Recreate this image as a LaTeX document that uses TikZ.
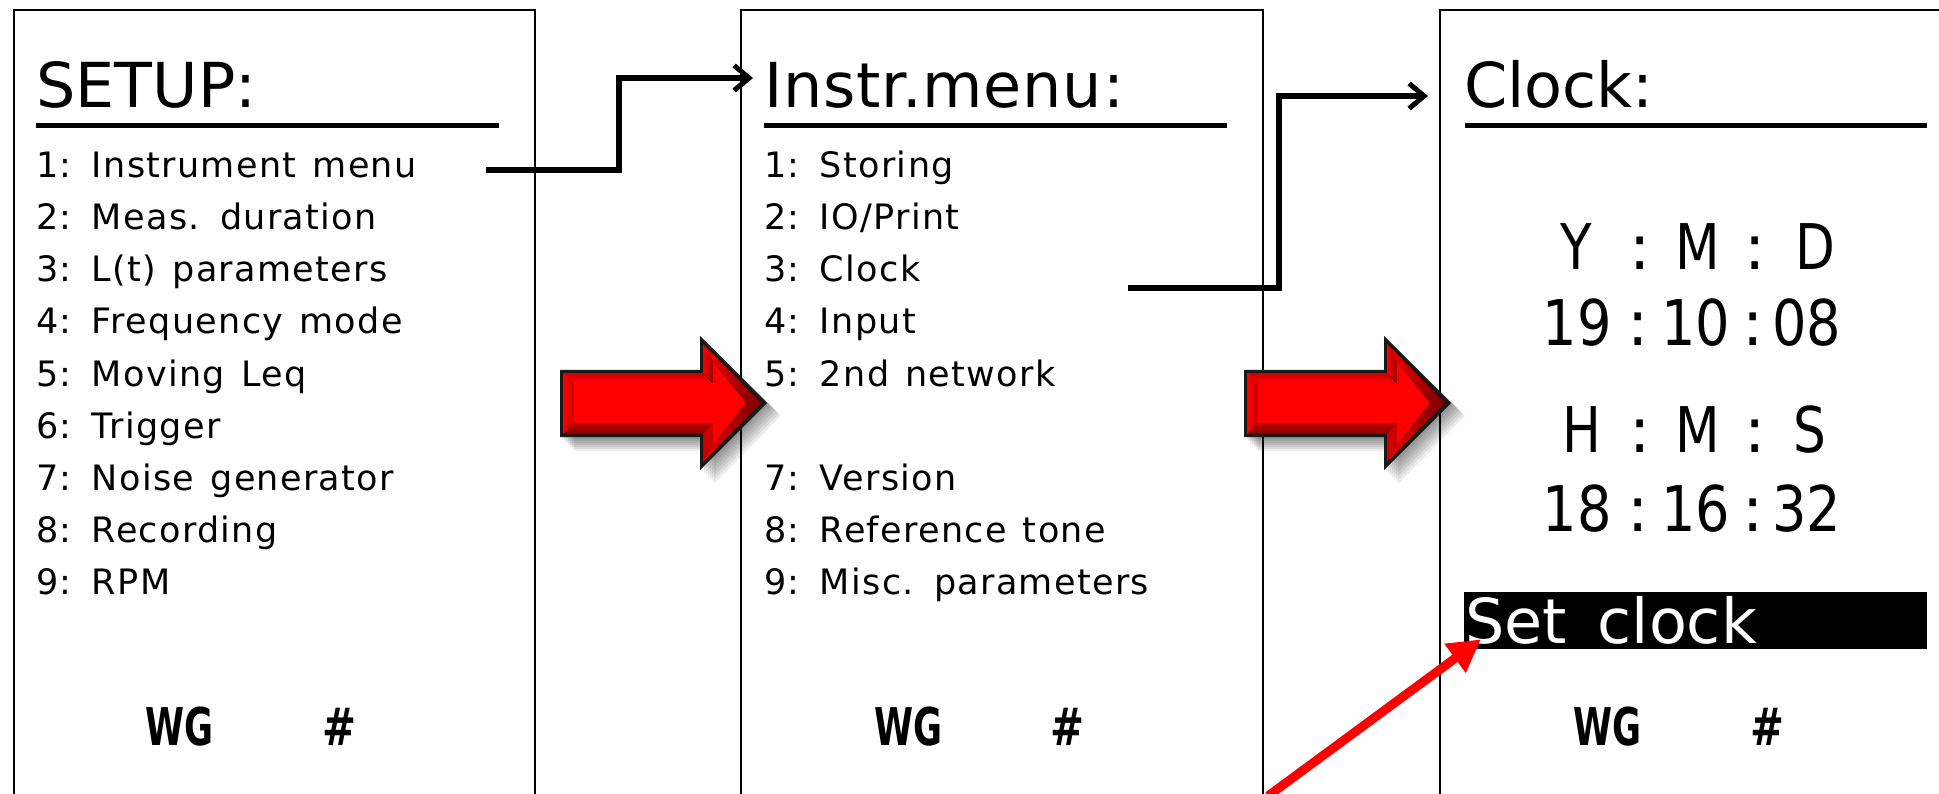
\documentclass[tikz,border=0pt]{standalone}
\usepackage{fontspec}
\setmainfont{DejaVu Sans}
\newfontfamily\itemfont[LetterSpace=3.8,WordSpace=1.3]{DejaVu Sans}
\newfontfamily\headfont[LetterSpace=1.3]{DejaVu Sans}
\usetikzlibrary{arrows.meta}
\newcommand{\fsz}[1]{\fontsize{#1}{#1}\selectfont}
\tikzset{
  x=1pt,y=-1pt,
  panel/.style={draw=black,line width=1.6pt},
  rulebar/.style={line width=5pt,black},
  item/.style={anchor=base west,inner sep=0pt,font=\fsz{35}\itemfont},
  heading/.style={anchor=base west,inner sep=0pt,font=\fsz{62}},
  clk/.style={anchor=base west,inner sep=0pt,font=\fsz{63}},
  softkey/.style={anchor=base,inner sep=0pt,font=\fsz{52}\bfseries},
  link/.style={line width=5.5pt,black,line join=miter,-{Straight Barb[length=15pt,width=25pt,line width=5pt]}},
  redlink/.style={line width=9pt,red,-{Triangle[length=32pt,width=34pt]},shorten >=-1pt},
}
% #1 left box width, #2 right box width, #3 #4 #5 the three groups, #6 horizontal scale
\newcommand{\clkline}[6]{\makebox[#1pt]{\scalebox{#6}[1]{#3}}\makebox[0pt]{:}\makebox[115pt]{\scalebox{#6}[1]{#4}}\makebox[0pt]{:}\makebox[#2pt]{\scalebox{#6}[1]{#5}}}
\newcommand{\blockarrow}[1]{%
 \begin{scope}[shift={(#1,0)}]
  \foreach \o in {2,4,6,8,10,12,14}{
   \fill[black,opacity=.07] (560+\o,370+\o)--(700+\o,370+\o)--(700+\o,336+\o)--(767+\o,402+\o)--(700+\o,470+\o)--(700+\o,437+\o)--(560+\o,437+\o)--cycle;}
  \fill[black!90] (560,370)--(700,370)--(700,336)--(767,403)--(700,470)--(700,437)--(560,437)--cycle;
  % bevels
  \shade[top color=red!80!black,bottom color=red] (563,373)--(703,373)--(712,383)--(574,383)--cycle;
  \shade[left color=red,right color=red!78!black] (563,373)--(574,383)--(574,423)--(563,434)--cycle;
  \shade[top color=red!72!black,bottom color=red!55!black] (563,434)--(574,423)--(712,423)--(703,434)--cycle;
  \shade[left color=red,right color=red!60!black] (703,344)--(713,362)--(713,383)--(703,373)--cycle;
  \shade[left color=red!90!black,right color=red!55!black,shading angle=45] (703,344)--(761,403)--(746,403)--(713,362)--cycle;
  \shade[left color=red!55!black,right color=red!90!black,shading angle=-45] (761,403)--(703,462)--(713,444)--(746,403)--cycle;
  \fill[red!80!black] (703,462)--(713,444)--(713,423)--(703,434)--cycle;
  % face
  \fill[red] (574,383)--(713,383)--(713,362)--(746,403)--(713,444)--(713,423)--(574,423)--cycle;
 \end{scope}}
\begin{document}
\begin{tikzpicture}
\useasboundingbox (0,0) rectangle (1939,794);
\fill[white] (0,0) rectangle (1939,794);
% panels
\draw[panel] (14,794) -- (14,10) -- (535,10) -- (535,794);
\draw[panel] (741,794) -- (741,10) -- (1263,10) -- (1263,794);
\draw[panel] (1440,794) -- (1440,10) -- (1939,10);
% panel 1
\node[heading] (h1) at (36,108) {SETUP:};
\draw[rulebar] (36,126) -- (499,126);
\node[item] (a1) at (36,178) {1: Instrument menu};
\node[item] (a2) at (36,230) {2: Meas. duration};
\node[item] (a3) at (36,282) {3: L(t) parameters};
\node[item] (a4) at (36,334) {4: Frequency mode};
\node[item] (a5) at (36,386) {5: Moving Leq};
\node[item] (a6) at (36,438) {6: Trigger};
\node[item] (a7) at (36,490) {7: Noise generator};
\node[item] (a8) at (36,542) {8: Recording};
\node[item] (a9) at (36,594) {9: RPM};
\node[softkey] (wg1) at (180,745) {\scalebox{.68}[1]{WG}};
\node[softkey] (n1) at (339,745) {\scalebox{.78}[1]{\#}};
% panel 2
\node[heading] (h2) at (764,108) {\headfont Instr.menu:};
\draw[rulebar] (764,126) -- (1227,126);
\node[item] (b1) at (764,178) {1: Storing};
\node[item] (b2) at (764,230) {2: IO/Print};
\node[item] (b3) at (764,282) {3: Clock};
\node[item] (b4) at (764,334) {4: Input};
\node[item] (b5) at (764,386) {5: 2nd network};
\node[item] (b7) at (764,490) {7: Version};
\node[item] (b8) at (764,542) {8: Reference tone};
\node[item] (b9) at (764,594) {9: Misc. parameters};
\node[softkey] (wg2) at (909,745) {\scalebox{.68}[1]{WG}};
\node[softkey] (n2) at (1067,745) {\scalebox{.78}[1]{\#}};
% panel 3
\node[heading] (h3) at (1464,108) {Clock:};
\draw[rulebar] (1465,126) -- (1927,126);
\node[clk] (c1) at (1512,270) {\clkline{128}{120}{Y}{M}{D}{.82}};
\node[clk] (c2) at (1516,345) {\clkline{122}{107}{19}{10}{08}{.86}};
\node[clk] (c3) at (1524,452) {\clkline{116}{110}{H}{M}{S}{.82}};
\node[clk] (c4) at (1516,531) {\clkline{122}{107}{18}{16}{32}{.86}};
\fill[black] (1464,592) rectangle (1927,649);
\node[heading,white] (sc) at (1465,643) {Set\hspace{11pt} clock};
\node[softkey] (wg3) at (1607,745) {\scalebox{.68}[1]{WG}};
\node[softkey] (n3) at (1767,745) {\scalebox{.78}[1]{\#}};
% block arrows
\blockarrow{0}
\blockarrow{684}
% connectors
\coordinate (s1) at (486,170);
\coordinate (e1) at (753,78);
\coordinate (s2) at (1128,288);
\coordinate (e2) at (1428,96);
\coordinate (s3) at (1268,796);
\coordinate (e3) at (1480,640);
\draw[link] (s1) -- (619,170) -- (619,78) -- (e1);
\draw[link] (s2) -- (1279,288) -- (1279,96) -- (e2);
\draw[redlink] (s3) -- (e3);
\end{tikzpicture}
\end{document}
